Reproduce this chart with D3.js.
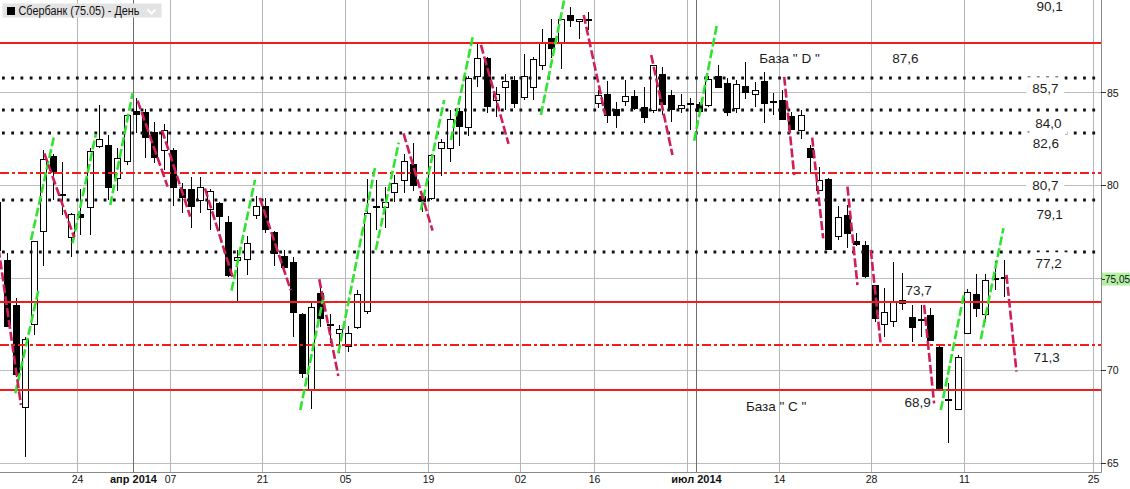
<!DOCTYPE html>
<html><head><meta charset="utf-8">
<script src="https://cdn.jsdelivr.net/npm/d3@7"></script>
<style>html,body{margin:0;padding:0;background:#fff;overflow:hidden}svg{display:block}</style>
</head><body>
<svg id="c" width="1130" height="489"></svg>
<script>
// ---------- DATA ----------
const dates = [
"2014-03-11","2014-03-12","2014-03-13","2014-03-14","2014-03-17","2014-03-18","2014-03-19","2014-03-20","2014-03-21","2014-03-24",
"2014-03-25","2014-03-26","2014-03-27","2014-03-28","2014-03-31","2014-04-01","2014-04-02","2014-04-03","2014-04-04","2014-04-07",
"2014-04-08","2014-04-09","2014-04-10","2014-04-11","2014-04-14","2014-04-15","2014-04-16","2014-04-17","2014-04-18","2014-04-21",
"2014-04-22","2014-04-23","2014-04-24","2014-04-25","2014-04-28","2014-04-29","2014-04-30","2014-05-02","2014-05-05","2014-05-06",
"2014-05-07","2014-05-08","2014-05-12","2014-05-13","2014-05-14","2014-05-15","2014-05-16","2014-05-19","2014-05-20","2014-05-21",
"2014-05-22","2014-05-23","2014-05-26","2014-05-27","2014-05-28","2014-05-29","2014-05-30","2014-06-02","2014-06-03","2014-06-04",
"2014-06-05","2014-06-06","2014-06-09","2014-06-10","2014-06-11","2014-06-16","2014-06-17","2014-06-18","2014-06-19","2014-06-20",
"2014-06-23","2014-06-24","2014-06-25","2014-06-26","2014-06-27","2014-06-30","2014-07-01","2014-07-02","2014-07-03","2014-07-04",
"2014-07-07","2014-07-08","2014-07-09","2014-07-10","2014-07-11","2014-07-14","2014-07-15","2014-07-16","2014-07-17","2014-07-18",
"2014-07-21","2014-07-22","2014-07-23","2014-07-24","2014-07-25","2014-07-28","2014-07-29","2014-07-30","2014-07-31","2014-08-01",
"2014-08-04","2014-08-05","2014-08-06","2014-08-07","2014-08-08","2014-08-11","2014-08-12","2014-08-13","2014-08-14","2014-08-15"];
const futureDays = ["2014-08-16","2014-08-17","2014-08-18","2014-08-19","2014-08-20","2014-08-21","2014-08-22","2014-08-23",
"2014-08-24","2014-08-25","2014-08-26","2014-08-27","2014-08-28","2014-08-29","2014-08-30","2014-08-31"];

const open = [79.1,75.95,73.5,68.0,72.5,77.5,81.55,79.5,77.2,78.45,
78.8,82.1,82.15,80.4,81.3,84.0,83.95,82.85,81.9,81.9,
79.8,79.8,79.2,78.7,79.05,78.0,75.95,76.0,78.4,78.85,
77.45,76.15,75.85,73.0,68.95,74.15,72.5,72.0,71.3,72.3,
73.2,78.85,78.8,79.6,80.25,81.15,79.4,79.3,82.0,82.0,
84.0,83.15,85.9,86.85,84.6,85.3,85.7,84.75,85.3,86.5,
87.95,87.75,89.2,88.85,89.0,84.45,84.9,84.1,84.55,84.8,
84.2,84.05,86.0,84.85,84.15,84.45,84.4,84.3,85.9,85.5,
84.15,85.35,84.9,85.6,84.55,84.6,83.75,83.0,82.0,79.75,
80.35,77.25,78.4,77.0,76.75,74.6,72.5,72.65,73.8,72.85,
72.75,72.95,71.25,68.45,67.9,72.0,74.1,73.05,74.95,75.0];
const high = [79.3,76.3,73.9,71.8,77.0,81.9,81.7,81.25,78.5,79.8,
82.0,84.3,82.7,82.0,83.85,84.7,84.1,83.4,83.3,82.0,
80.1,80.45,80.45,79.8,79.1,78.3,76.5,77.25,79.4,79.3,
77.5,76.5,76.1,73.1,73.7,74.75,73.05,72.45,72.4,74.3,
80.35,80.25,79.9,80.55,81.7,82.25,79.45,81.7,82.5,84.05,
84.15,85.9,87.6,86.9,85.3,86.0,85.9,87.1,86.9,88.45,
89.0,89.0,89.6,89.0,89.35,85.15,85.6,84.5,85.7,85.15,
85.3,86.5,86.4,85.15,84.9,84.7,84.5,85.9,86.5,85.8,
85.7,86.65,85.55,86.1,84.95,85.15,83.95,84.05,82.15,81.0,
80.4,78.85,78.9,77.4,76.95,74.6,74.45,75.85,75.25,73.5,
73.5,73.35,71.3,69.3,70.8,74.4,75.2,75.2,75.9,75.95];
const low = [76.2,72.3,69.6,65.3,71.9,75.6,79.2,78.4,76.1,77.3,
77.3,82.0,79.2,79.65,81.1,82.8,81.45,81.2,80.8,78.85,
78.5,77.7,78.5,77.55,77.5,75.05,73.6,75.15,78.15,77.4,
75.6,75.5,71.8,69.55,67.9,72.3,71.45,70.9,71.0,72.2,
73.05,77.55,77.65,79.1,79.55,79.7,78.55,79.2,80.5,81.25,
82.1,82.65,85.3,83.9,83.7,84.05,84.15,84.6,84.6,86.2,
86.85,86.25,88.55,87.9,88.4,84.15,83.35,83.1,84.25,84.05,
83.35,83.9,83.8,83.4,83.9,83.0,83.9,84.2,85.25,83.75,
83.9,84.65,84.2,83.35,83.8,83.5,83.0,82.5,80.65,79.7,
76.5,77.05,76.6,76.7,74.95,72.6,71.8,72.35,73.25,71.5,
71.8,71.6,68.9,66.05,67.9,72.0,72.85,72.6,74.3,73.95];
const close = [76.5,72.4,69.8,71.7,76.95,81.4,80.75,79.45,78.45,78.25,
81.85,82.5,79.9,81.45,83.8,83.85,82.6,81.5,82.95,79.9,
79.35,78.85,79.9,79.7,78.3,75.15,76.1,76.85,78.85,77.6,
76.3,75.55,73.15,69.85,73.4,72.8,72.45,72.2,72.0,74.1,
78.5,78.8,79.1,80.1,81.3,80.0,79.15,81.6,82.3,83.55,
83.2,85.8,86.85,84.25,84.9,85.6,84.45,85.9,86.8,87.75,
87.4,88.95,88.9,88.95,88.98,84.85,83.8,83.8,84.8,84.15,
83.65,86.5,84.4,84.1,84.3,84.42,84.0,85.75,85.3,83.95,
85.45,85.05,85.15,84.45,84.5,83.55,83.05,83.8,81.5,80.25,
76.55,78.25,77.4,76.8,75.1,72.8,73.15,73.65,73.6,72.35,
72.75,71.6,68.9,68.4,70.7,74.2,73.35,74.85,74.98,75.05];

// impulse legs: [slot index start, value start, slot index end, value end]
const upLegs = [
[1.9,68.74,4.42,74.36],[3.6,77.03,6.12,82.7],[8.1,76.85,10.63,82.76],[12.18,78.92,14.6,84.96],
[25.31,74.29,27.85,80.27],[32.75,67.84,35.35,74.15],[36.87,70.9,40.87,80.99],[40.93,76.49,43.42,82.29],
[45.82,78.65,48.34,84.59],[49.07,82.43,51.48,88.11],[58.81,83.78,61.45,90.3],[75.41,82.39,77.87,88.65],
[102.12,67.84,104.64,74.15],[106.45,71.66,108.9,77.66]];
const downLegs = [
[-0.1,77.2,2.51,68.11],[5.04,81.71,8.28,77.16],[15.14,84.56,18.39,79.91],[17.78,82.97,20.84,78.29],
[22.43,79.82,25.42,75.04],[28.37,79.3,31.72,74.32],[34.81,74.9,36.87,69.68],[43.94,82.79,47.08,77.53],
[52.32,87.57,55.31,82.22],[63.45,89.19,65.78,83.78],[70.76,87.03,73.06,81.62],[85.16,85.85,86.24,80.54],
[88.19,82.56,89.38,77.12],[92.01,79.91,93.09,74.59],[94.54,76.49,95.62,71.35],[100.31,73.51,101.39,68.2],
[109.23,75.14,110.31,69.91]];

const solidLevels = [87.7, 73.7, 68.9];
const dashDotLevels = [80.65, 71.33];
const dottedLevels = [85.8, 84.05, 82.8, 79.2, 76.4];

const noteText = ["90,1","87,6","85,7","84,0","82,6","80,7","79,1","77,2","73,7","71,3","68,9"];
const noteIdx  = [113.9, 98.28, 113.44, 113.77, 113.49, 113.44, 113.9, 113.8, 99.71, 113.57, 99.61];
const noteVal  = [89.41, 86.61, 84.96, 83.06, 81.98, 79.73, 78.16, 75.5, 74.05, 70.42, 67.98];
const baseText = ['База " D "', 'База " C "'];
const baseIdx  = [82.45, 81.01];
const baseVal  = [86.57, 67.78];

const yTicks = [65, 70, 75, 80, 85];
const tickDates  = ["2014-03-24","2014-04-01","2014-04-07","2014-04-21","2014-05-05","2014-05-19","2014-06-02",
                    "2014-06-16","2014-06-30","2014-07-01","2014-07-14","2014-07-28","2014-08-11","2014-08-25"];
const tickLabels = ["24","апр 2014","07","21","05","19","02","16","","июл 2014","14","28","11","25"];
const lastPrice = 75.05;
const title = "Сбербанк (75.05) - День";

// ---------- CHART ----------
const F = "'Liberation Sans', Arial, sans-serif";
const plotR = 1101, plotB = 472;
const svg = d3.select("#c");
const slots = dates.concat(futureDays);
const iOf = d => slots.indexOf(d);
const x = d3.scaleLinear().domain([iOf("2014-03-24"), iOf("2014-08-25")]).range([80.9, 1096.7]);
const y = d3.scaleLinear().domain([65, 90]).range([462.5, 0]);
const slotStart = i => Math.round(x(i) - 3.7) + 0.5;

svg.append("clipPath").attr("id","pc").append("rect").attr("x",0).attr("y",0).attr("width",plotR).attr("height",plotB);
const g = svg.append("g").attr("clip-path","url(#pc)");

// grid
g.selectAll("line.hg").data(yTicks).join("line").attr("class","hg")
  .attr("x1",0).attr("x2",plotR).attr("y1",d=>Math.round(y(d))+0.5).attr("y2",d=>Math.round(y(d))+0.5)
  .attr("stroke","#bdbdbd").attr("stroke-width",1);
const ticks = tickDates.map((d,k)=>({i:iOf(d), label:tickLabels[k], major:/2014/.test(tickLabels[k])}));
g.selectAll("line.vg").data(ticks).join("line").attr("class","vg")
  .attr("x1",d=>slotStart(d.i)).attr("x2",d=>slotStart(d.i)).attr("y1",0).attr("y2",plotB)
  .attr("stroke",d=>d.major?"#6e6e6e":"#b5b5b5").attr("stroke-width",1);

// candles
const candles = dates.map((d,i)=>({i, o:open[i], h:high[i], l:low[i], c:close[i]}));
const cg = g.append("g");
cg.selectAll("line.wick").data(candles).join("line").attr("class","wick")
  .attr("x1",d=>Math.round(x(d.i)-3.5)+3.5).attr("x2",d=>Math.round(x(d.i)-3.5)+3.5)
  .attr("y1",d=>Math.round(y(d.h))).attr("y2",d=>Math.round(y(d.l)))
  .attr("stroke","#000").attr("stroke-width",1);
cg.selectAll("rect.body").data(candles).join("rect").attr("class","body")
  .attr("x",d=>Math.round(x(d.i)-3.5)+0.5).attr("width",6)
  .attr("y",d=>Math.round(y(Math.max(d.o,d.c)))+0.5)
  .attr("height",d=>Math.max(Math.round(y(Math.min(d.o,d.c)))-Math.round(y(Math.max(d.o,d.c))),1))
  .attr("fill",d=>d.c>=d.o?"#fff":"#000").attr("stroke","#000").attr("stroke-width",1);

// levels
const lg = g.append("g");
lg.selectAll("line.sl").data(solidLevels).join("line").attr("class","sl")
  .attr("x1",0).attr("x2",plotR).attr("y1",d=>Math.round(y(d))).attr("y2",d=>Math.round(y(d)))
  .attr("stroke","#f21c1c").attr("stroke-width",1.8);
lg.selectAll("line.dl").data(dashDotLevels).join("line").attr("class","dl")
  .attr("x1",0).attr("x2",plotR).attr("y1",d=>Math.round(y(d))).attr("y2",d=>Math.round(y(d)))
  .attr("stroke","#f21c1c").attr("stroke-width",1.8).attr("stroke-dasharray","9,3,3,3");
lg.selectAll("line.dt").data(dottedLevels).join("line").attr("class","dt")
  .attr("x1",2).attr("x2",plotR).attr("y1",d=>Math.round(y(d))).attr("y2",d=>Math.round(y(d)))
  .attr("stroke","#111").attr("stroke-width",2.8).attr("stroke-dasharray","2.8,6.44");

// impulse legs
const tg = g.append("g");
tg.selectAll("line.up").data(upLegs).join("line").attr("class","up")
  .attr("x1",d=>x(d[0])).attr("y1",d=>y(d[1])).attr("x2",d=>x(d[2])).attr("y2",d=>y(d[3]))
  .attr("stroke","#2fe32f").attr("stroke-width",2.6).attr("stroke-dasharray","9,3");
tg.selectAll("line.dn").data(downLegs).join("line").attr("class","dn")
  .attr("x1",d=>x(d[0])).attr("y1",d=>y(d[1])).attr("x2",d=>x(d[2])).attr("y2",d=>y(d[3]))
  .attr("stroke","#cf1f57").attr("stroke-width",2.6).attr("stroke-dasharray","9,3");

// annotations
const notes = noteText.map((t,k)=>({t, i:noteIdx[k], v:noteVal[k], boxed:noteIdx[k]>110}));
const ng = svg.append("g");
ng.selectAll("rect.nb").data(notes.filter(n=>n.boxed)).join("rect").attr("class","nb")
  .attr("x",d=>x(d.i)-19).attr("width",38).attr("y",d=>y(d.v)-16).attr("height",22).attr("fill","#fff");
ng.selectAll("text.nt").data(notes).join("text").attr("class","nt")
  .attr("x",d=>x(d.i)).attr("y",d=>y(d.v)).attr("text-anchor","middle")
  .attr("font-family",F).attr("font-size","13.5px").attr("fill","#1c1c1c").text(d=>d.t);
ng.selectAll("text.bt").data(baseText.map((t,k)=>({t,i:baseIdx[k],v:baseVal[k]}))).join("text").attr("class","bt")
  .attr("x",d=>x(d.i)).attr("y",d=>y(d.v)).attr("text-anchor","start")
  .attr("font-family",F).attr("font-size","13.5px").attr("fill","#1c1c1c").text(d=>d.t);

// axes frame
svg.append("line").attr("x1",plotR+0.5).attr("x2",plotR+0.5).attr("y1",0).attr("y2",plotB+0.5).attr("stroke","#8a8a8a");
svg.append("line").attr("x1",0).attr("x2",plotR+0.5).attr("y1",plotB+0.5).attr("y2",plotB+0.5).attr("stroke","#8a8a8a");

// y axis labels (the one hidden under the last-price marker is skipped, as in the terminal)
const lpY = y(lastPrice);
const ya = svg.append("g");
ya.selectAll("line.yt").data(yTicks).join("line").attr("class","yt")
  .attr("x1",plotR).attr("x2",plotR+5).attr("y1",d=>Math.round(y(d))+0.5).attr("y2",d=>Math.round(y(d))+0.5).attr("stroke","#333");
ya.selectAll("text.yl").data(yTicks.filter(d=>Math.abs(y(d)-lpY)>10)).join("text").attr("class","yl")
  .attr("x",plotR+6).attr("y",d=>y(d)+4).attr("font-family",F).attr("font-size","10.5px").attr("fill","#111").text(d=>d);
// last price marker
ya.append("rect").attr("x",plotR+1).attr("y",lpY-4).attr("width",30).attr("height",13).attr("fill","#b4f0a6");
ya.append("line").attr("x1",plotR+1).attr("x2",plotR+4).attr("y1",Math.round(lpY)+2.5).attr("y2",Math.round(lpY)+2.5).attr("stroke","#333");
ya.append("text").attr("x",plotR+4).attr("y",lpY+6.5).attr("font-family",F).attr("font-size","10px").attr("fill","#111")
  .text(String(lastPrice.toFixed(2)).replace(".",","));

// x axis labels
svg.append("g").selectAll("text.xl").data(ticks.filter(t=>t.label)).join("text").attr("class","xl")
  .attr("x",d=>slotStart(d.i)).attr("y",483).attr("text-anchor","middle")
  .attr("font-family",F).attr("font-size",d=>d.major?"11px":"10.5px").attr("font-weight",d=>d.major?"bold":"normal")
  .attr("fill","#111").text(d=>d.label);

// header
const hd = svg.append("g");
hd.append("rect").attr("x",2.5).attr("y",3.5).attr("width",159).attr("height",14).attr("fill","#e3e3e3");
hd.append("rect").attr("x",7).attr("y",7).attr("width",8).attr("height",8).attr("fill","#000");
hd.append("text").attr("x",18.5).attr("y",15).attr("font-family",F).attr("font-size","12.5px").attr("fill","#111")
  .attr("textLength",121).attr("lengthAdjust","spacingAndGlyphs").text(title);
hd.append("polyline").attr("points","147.5,9.5 151.5,13.5 155.5,9.5").attr("fill","none").attr("stroke","#fff").attr("stroke-width",2);
</script>
</body></html>
